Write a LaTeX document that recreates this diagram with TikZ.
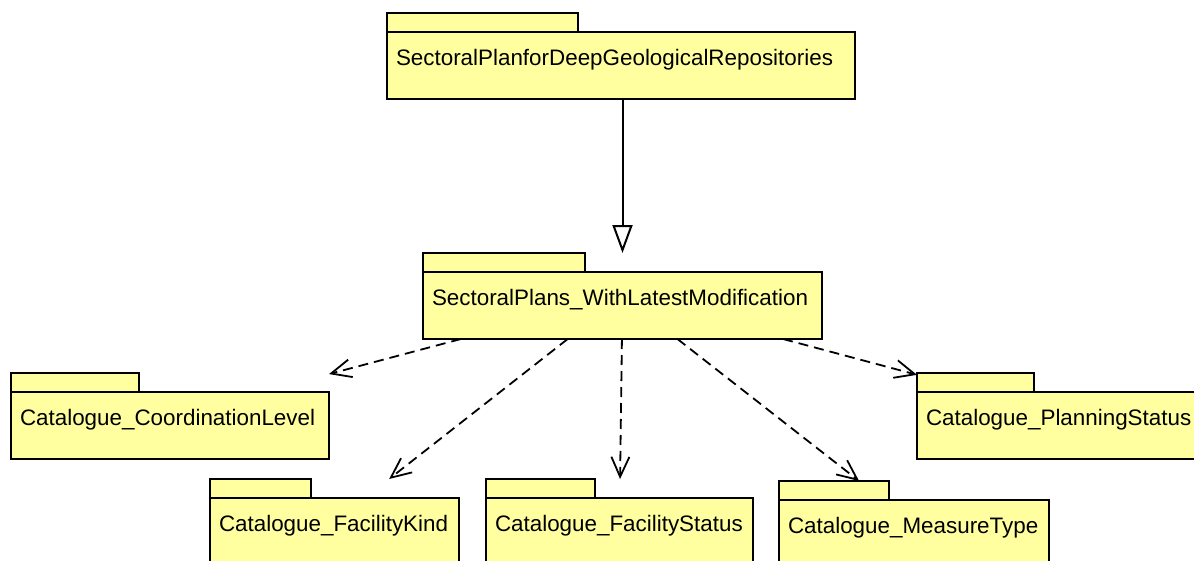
\documentclass[tikz,border=0pt]{standalone}
\usepackage{fontspec}
\setmainfont{Liberation Sans}
\usetikzlibrary{arrows.meta}
\usetikzlibrary{fit}
\definecolor{pkgyellow}{RGB}{255,255,160}
\tikzset{
  pkgbody/.style={draw, fill=pkgyellow, line width=1.8pt, anchor=north west, outer sep=0pt,
    inner xsep=9pt, inner ysep=0pt, align=left, text height=33pt, text depth=34pt,
    font=\fontsize{22.4}{26}\selectfont},
  pkgtab/.style={draw, fill=pkgyellow, line width=1.8pt, anchor=south west, outer sep=0pt,
    inner sep=0pt, minimum height=19pt},
  pkgbox/.style={inner sep=0pt, outer sep=0pt},
  dep/.style={line width=1.8pt, dash pattern=on 10pt off 6pt, -{Straight Barb[length=20pt,width=18pt]}},
  gen/.style={line width=2pt, -{Triangle[open,length=28pt,width=20pt]}}
}

\begin{document}
\begin{tikzpicture}[x=1pt,y=-1pt]
  \useasboundingbox (0,0) rectangle (1194,560);
  \clip (0,0) rectangle (1194,560);
  % packages
  \node[pkgbody, text width=450pt] (sp) at (387,32) {SectoralPlanforDeepGeologicalRepositories};
  \node[pkgtab, minimum width=191pt] (sptab) at (sp.north west) {};
  \node[pkgbox, fit=(sptab)(sp)] (sppkg) {};

  \node[pkgbody, text width=381pt] (spm) at (423,272) {SectoralPlans\_WithLatestModification};
  \node[pkgtab, minimum width=162pt] (spmtab) at (spm.north west) {};
  \node[pkgbox, fit=(spmtab)(spm)] (spmpkg) {};

  \node[pkgbody, text width=300pt] (cl) at (11,392) {Catalogue\_CoordinationLevel};
  \node[pkgtab, minimum width=128pt] (cltab) at (cl.north west) {};
  \node[pkgbox, fit=(cltab)(cl)] (clpkg) {};

  \node[pkgbody, text width=290pt] (ps) at (917,392) {Catalogue\_PlanningStatus};
  \node[pkgtab, minimum width=117pt] (pstab) at (ps.north west) {};
  \node[pkgbox, fit=(pstab)(ps)] (pspkg) {};

  \node[pkgbody, text width=231pt] (fk) at (210,498) {Catalogue\_FacilityKind};
  \node[pkgtab, minimum width=101pt] (fktab) at (fk.north west) {};
  \node[pkgbox, fit=(fktab)(fk)] (fkpkg) {};

  \node[pkgbody, text width=249pt] (fs) at (486,498) {Catalogue\_FacilityStatus};
  \node[pkgtab, minimum width=109pt] (fstab) at (fs.north west) {};
  \node[pkgbox, fit=(fstab)(fs)] (fspkg) {};

  \node[pkgbody, text width=252pt] (mt) at (779,500) {Catalogue\_MeasureType};
  \node[pkgtab, minimum width=110pt] (mttab) at (mt.north west) {};
  \node[pkgbox, fit=(mttab)(mt)] (mtpkg) {};

  % connectors
  \draw[gen] (sppkg.south -| spmpkg) -- (spmpkg.north);
  \draw[dep] (spmpkg) -- (clpkg);
  \draw[dep] (spmpkg) -- (fkpkg);
  \draw[dep] (spmpkg) -- (fspkg);
  \draw[dep] (spmpkg) -- (mtpkg);
  \draw[dep] (spmpkg) -- (pspkg);
\end{tikzpicture}
\end{document}
